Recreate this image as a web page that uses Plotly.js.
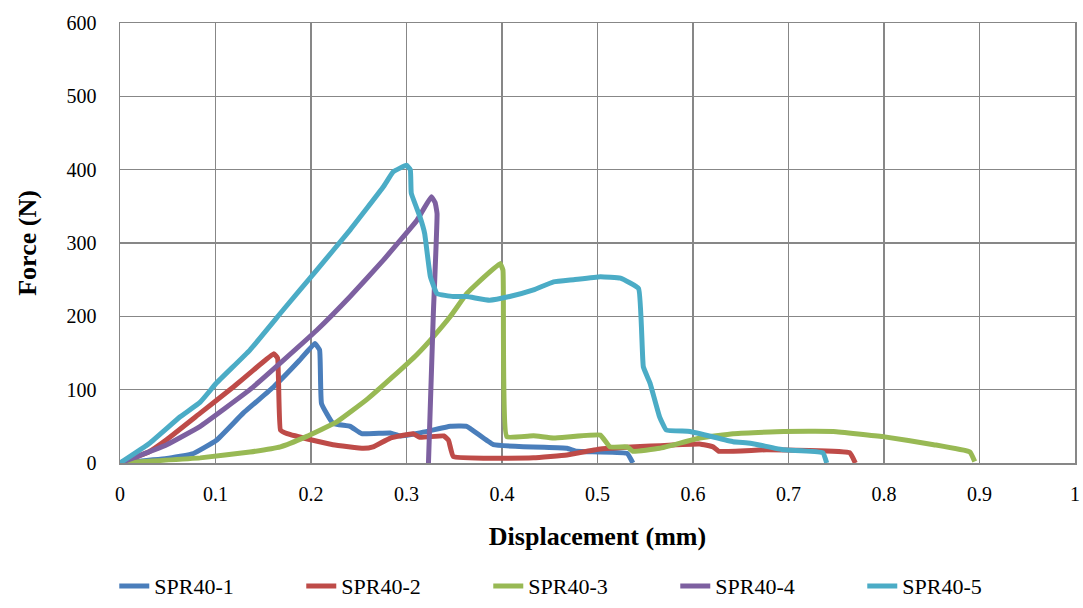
<!DOCTYPE html>
<html>
<head>
<meta charset="utf-8">
<script src="https://cdn.plot.ly/plotly-3.0.1.min.js"></script>
<style>html,body{margin:0;padding:0;background:#fff;}#chart{width:1083px;height:608px;}</style>
</head>
<body>
<div id="chart"></div>
<script>
const seriesNames = ["SPR40-1", "SPR40-2", "SPR40-3", "SPR40-4", "SPR40-5"];

const x1 = [0, 0.049, 0.077, 0.101, 0.129, 0.161, 0.188, 0.204, 0.209, 0.211, 0.223, 0.241, 0.253, 0.283, 0.293, 0.314, 0.346, 0.363, 0.391, 0.468, 0.478, 0.531, 0.537];
const y1 = [0, 6, 13, 31, 68, 104, 140, 163, 154, 81, 54, 50, 40, 41, 37, 41, 50, 50, 25, 20, 16, 13, 0];

const x2 = [0, 0.03, 0.049, 0.084, 0.119, 0.140, 0.161, 0.165, 0.168, 0.175, 0.202, 0.223, 0.255, 0.265, 0.283, 0.307, 0.314, 0.339, 0.344, 0.349, 0.433, 0.468, 0.503, 0.607, 0.621, 0.627, 0.677, 0.764, 0.770];
const y2 = [0, 15, 32, 68, 104, 127, 149, 143, 45, 40, 31, 25, 20, 22, 34, 40, 35, 37, 31, 9, 7, 11, 19, 26, 22, 16, 18, 14, 0];

const x3 = [0, 0.084, 0.136, 0.168, 0.195, 0.227, 0.258, 0.286, 0.311, 0.328, 0.346, 0.363, 0.370, 0.398, 0.401, 0.405, 0.433, 0.454, 0.503, 0.513, 0.531, 0.537, 0.565, 0.607, 0.642, 0.695, 0.747, 0.799, 0.852, 0.890, 0.895];
const y3 = [0, 7, 15, 22, 36, 56, 86, 118, 148, 172, 200, 231, 240, 272, 263, 36, 37, 34, 38, 22, 22, 16, 20, 34, 40, 43, 43, 36, 25, 15, 2];

const x4 = [0, 0.049, 0.084, 0.136, 0.171, 0.206, 0.241, 0.276, 0.311, 0.326, 0.330, 0.332, 0.328, 0.323];
const y4 = [0, 25, 50, 100, 140, 181, 227, 277, 331, 363, 355, 340, 200, 0];

const x5 = [0, 0.031, 0.063, 0.084, 0.101, 0.136, 0.171, 0.206, 0.241, 0.276, 0.286, 0.300, 0.304, 0.305, 0.314, 0.319, 0.325, 0.332, 0.349, 0.363, 0.387, 0.408, 0.433, 0.454, 0.475, 0.503, 0.524, 0.543, 0.548, 0.555, 0.565, 0.572, 0.597, 0.642, 0.660, 0.695, 0.736, 0.740];
const y5 = [0, 27, 63, 83, 109, 154, 209, 263, 318, 377, 397, 406, 400, 368, 336, 313, 254, 231, 227, 227, 222, 227, 236, 247, 250, 254, 252, 238, 131, 109, 63, 45, 43, 29, 27, 18, 14, 0];

const xTickVals = [0, 0.1, 0.2, 0.3, 0.4, 0.5, 0.6, 0.7, 0.8, 0.9, 1];
const xTickText = ["0", "0.1", "0.2", "0.3", "0.4", "0.5", "0.6", "0.7", "0.8", "0.9", "1"];
const yTickVals = [0, 100, 200, 300, 400, 500, 600];
const yTickText = ["0", "100", "200", "300", "400", "500", "600"];

const colors = ["#4A7EBB", "#BE4B48", "#98B954", "#7D60A0", "#4BACC6"];
const xs = [x1, x2, x3, x4, x5];
const ys = [y1, y2, y3, y4, y5];

const traces = seriesNames.map((n, i) => ({
  x: xs[i], y: ys[i], name: n, type: "scatter", mode: "lines",
  line: {color: colors[i], width: 5, shape: "spline", smoothing: 0.3}
}));

const fam = "Liberation Serif";
const gridColor = "#878787";

const layout = {
  width: 1083, height: 608,
  margin: {l: 120, r: 8, t: 23, b: 145, autoexpand: false},
  paper_bgcolor: "#fff", plot_bgcolor: "#fff",
  font: {family: fam, size: 20, color: "#000"},
  showlegend: true,
  legend: {
    orientation: "h", x: -0.006, xanchor: "left", y: -0.232, yanchor: "top",
    font: {family: fam, size: 22, color: "#000"}, entrywidth: 142, entrywidthmode: "pixels",
    itemwidth: 30, traceorder: "normal"
  },
  xaxis: {
    range: [0, 1], tickvals: xTickVals, ticktext: xTickText, ticks: "",
    showgrid: true, gridcolor: gridColor, gridwidth: 1.5,
    showline: true, linecolor: gridColor, linewidth: 1.5, mirror: true,
    zeroline: false, ticklabelstandoff: 12, automargin: false,
    tickfont: {family: fam, size: 20, color: "#000"},
    title: {text: "<b>Displacement (mm)</b>", font: {family: fam, size: 26, color: "#000"}, standoff: 23}
  },
  yaxis: {
    range: [0, 600], tickvals: yTickVals, ticktext: yTickText, ticks: "",
    showgrid: true, gridcolor: gridColor, gridwidth: 1.5,
    showline: true, linecolor: gridColor, linewidth: 1.5, mirror: true,
    zeroline: false, ticklabelstandoff: 18, automargin: false,
    tickfont: {family: fam, size: 20, color: "#000"},
    title: {text: "<b>Force (N)</b>", font: {family: fam, size: 26, color: "#000"}, standoff: 22}
  }
};

Plotly.newPlot("chart", traces, layout, {displayModeBar: false, staticPlot: true});
</script>
</body>
</html>
